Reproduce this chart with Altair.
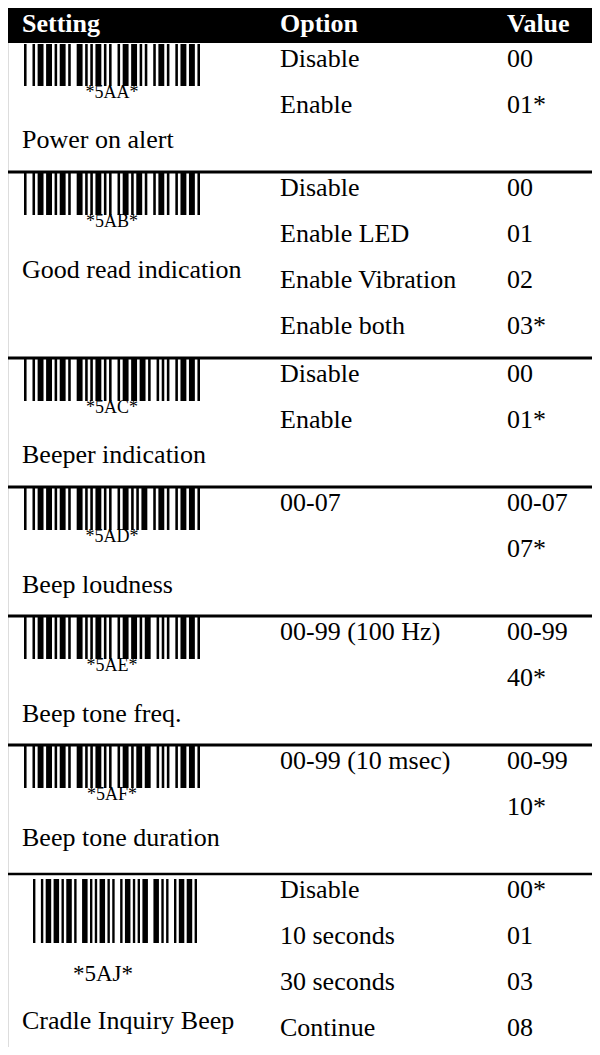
import altair as alt
import pandas as pd

# ---------------- data ----------------
HEADERS = ["Setting", "Option", "Value"]
CODES = ["*5AA*", "*5AB*", "*5AC*", "*5AD*", "*5AE*", "*5AF*", "*5AJ*"]
SETTINGS = ["Power on alert", "Good read indication", "Beeper indication",
            "Beep loudness", "Beep tone freq.", "Beep tone duration",
            "Cradle Inquiry Beep"]
OPTIONS = [["Disable", "Enable"],
           ["Disable", "Enable LED", "Enable Vibration", "Enable both"],
           ["Disable", "Enable"],
           ["00-07"],
           ["00-99 (100 Hz)"],
           ["00-99 (10 msec)"],
           ["Disable", "10 seconds", "30 seconds", "Continue"]]
VALUES = [["00", "01*"],
          ["00", "01", "02", "03*"],
          ["00", "01*"],
          ["00-07", "07*"],
          ["00-99", "40*"],
          ["00-99", "10*"],
          ["00*", "01", "03", "08"]]
# Code 39 symbology: 9 elements (bar/space alternating), 1 = wide
CODE39 = {"*": "010010100", "5": "100110000", "A": "100001001",
          "B": "001001001", "C": "101001000", "D": "000011001",
          "E": "100011000", "F": "001011000", "J": "000011100"}
TALL = [False, False, False, False, False, False, True]

# ---------------- layout ----------------
MARGIN = 8
PAGE_W, PAGE_H = 600, 1055
HEADER_TOP, HEADER_BOTTOM = 7, 43
PITCH = 46
FIRST = 24
MIN_SECTION = 129
LABEL_OFFSET = [105, 106, 105, 106, 106, 101, 155]
WIDE = 2.3
FONT = "Liberation Serif, Times New Roman, serif"
X_LEFT, X_OPT, X_VAL = 22, 280, 507

texts, bars, rules = [], [], []
top = HEADER_BOTTOM
for i, code in enumerate(CODES):
    n = max(len(OPTIONS[i]), len(VALUES[i]))
    for j, t in enumerate(OPTIONS[i]):
        texts.append(dict(x=X_OPT, y=top + FIRST + j * PITCH, text=t, size=26, al="left"))
    for j, t in enumerate(VALUES[i]):
        texts.append(dict(x=X_VAL, y=top + FIRST + j * PITCH, text=t, size=26, al="left"))
    if TALL[i]:
        bx0, bx1, by0, by1 = 33, 197, top + 5, top + 69
        texts.append(dict(x=103, y=top + 107, text=code, size=23, al="center"))
    else:
        bx0, bx1, by0, by1 = 24, 200, top + 1, top + 43
        texts.append(dict(x=(bx0 + bx1) / 2, y=top + 55, text=code, size=18, al="center"))
    texts.append(dict(x=X_LEFT, y=top + LABEL_OFFSET[i], text=SETTINGS[i], size=26, al="left"))
    # barcode elements
    elems = []
    for k, ch in enumerate(code):
        pat = CODE39[ch]
        for m, w in enumerate(pat):
            elems.append((m % 2 == 0, WIDE if w == "1" else 1.0))
        if k < len(code) - 1:
            elems.append((False, 1.0))
    total = sum(w for _, w in elems)
    u = (bx1 - bx0) / total
    pos = bx0
    for is_bar, w in elems:
        if is_bar:
            bars.append(dict(x=pos, x2=pos + w * u, y=by0, y2=by1))
        pos += w * u
    if i < len(CODES) - 1:
        h = max(MIN_SECTION, 2 * FIRST + (n - 1) * PITCH)
        top = top + h
        rules.append(dict(x=6, x2=PAGE_W, y=top, w=3 if i < len(CODES) - 2 else 2.5))

texts_df = pd.DataFrame(texts)
bars_df = pd.DataFrame(bars)
rules_df = pd.DataFrame(rules)
head_df = pd.DataFrame(dict(x=[X_LEFT, X_OPT, X_VAL], y=[32] * 3, text=HEADERS))
band_df = pd.DataFrame(dict(x=[6], x2=[PAGE_W], y=[HEADER_TOP], y2=[HEADER_BOTTOM]))

# plot area covers page pixels [8, 592] x [8, 1047]
xs = alt.Scale(domain=[MARGIN, PAGE_W - MARGIN], nice=False, zero=False)
ys = alt.Scale(domain=[MARGIN, PAGE_H - MARGIN], nice=False, zero=False, reverse=True)

band = alt.Chart(band_df).mark_rect(color="black").encode(
    x=alt.X("x:Q", scale=xs, axis=None), x2="x2:Q",
    y=alt.Y("y:Q", scale=ys, axis=None), y2="y2:Q")

head = alt.Chart(head_df).mark_text(font=FONT, fontSize=26, fontWeight="bold",
                                    color="white", align="left", baseline="alphabetic").encode(
    x=alt.X("x:Q", scale=xs, axis=None), y=alt.Y("y:Q", scale=ys, axis=None), text="text:N")

bar_layer = alt.Chart(bars_df).mark_rect(color="black").encode(
    x=alt.X("x:Q", scale=xs, axis=None), x2="x2:Q",
    y=alt.Y("y:Q", scale=ys, axis=None), y2="y2:Q")

rule_layer = alt.Chart(rules_df).mark_rule(color="black").encode(
    x=alt.X("x:Q", scale=xs, axis=None), x2="x2:Q",
    y=alt.Y("y:Q", scale=ys, axis=None),
    strokeWidth=alt.StrokeWidth("w:Q", scale=None, legend=None))

left_txt = alt.Chart(texts_df[texts_df["al"] == "left"]).mark_text(
    font=FONT, color="black", align="left", baseline="alphabetic").encode(
    x=alt.X("x:Q", scale=xs, axis=None), y=alt.Y("y:Q", scale=ys, axis=None),
    text="text:N", size=alt.Size("size:Q", scale=None, legend=None))

center_txt = alt.Chart(texts_df[texts_df["al"] == "center"]).mark_text(
    font=FONT, color="black", align="center", baseline="alphabetic").encode(
    x=alt.X("x:Q", scale=xs, axis=None), y=alt.Y("y:Q", scale=ys, axis=None),
    text="text:N", size=alt.Size("size:Q", scale=None, legend=None))

chart = alt.layer(band, head, bar_layer, rule_layer, left_txt, center_txt).properties(
    width=PAGE_W - 2 * MARGIN, height=PAGE_H - 2 * MARGIN,
    autosize=alt.AutoSizeParams(type="none"), padding=0,
).configure_view(stroke=None).configure(background="white")

chart.save("out.html", embed_options={"renderer": "svg", "actions": False})
